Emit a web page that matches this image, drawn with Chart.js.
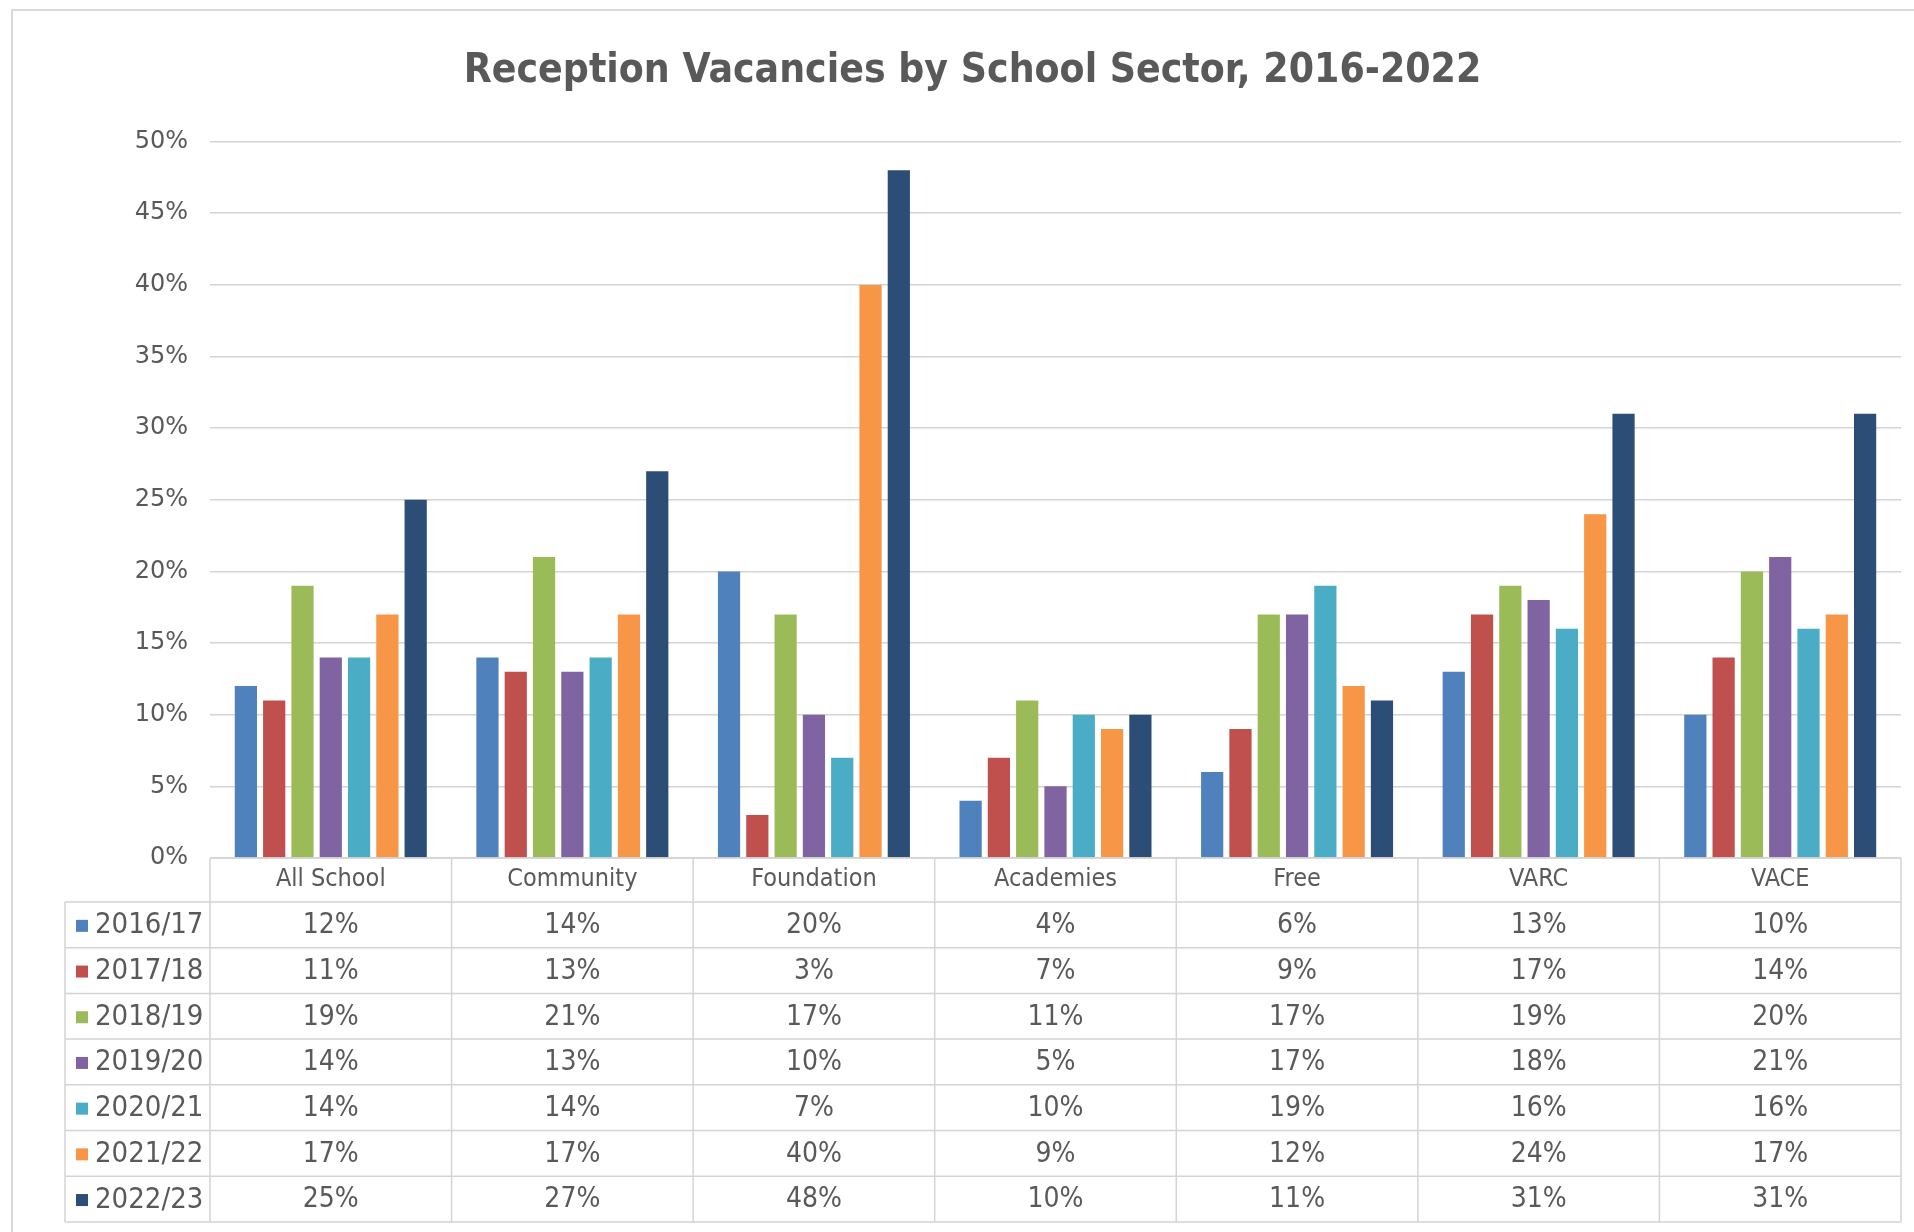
<!DOCTYPE html>
<html>
<head>
<meta charset="utf-8">
<title>Reception Vacancies by School Sector, 2016-2022</title>
<script src="https://cdn.jsdelivr.net/npm/chart.js@4.4.1/dist/chart.umd.min.js"></script>
<style>
  html, body { margin: 0; padding: 0; background: #ffffff; }
  #wrap { width: 1914px; height: 1232px; }
</style>
</head>
<body>
<div id="wrap"><canvas id="chart" width="1914" height="1232"></canvas></div>
<script>
// School sectors along the x axis
const sectors = ['All School', 'Community', 'Foundation', 'Academies', 'Free', 'VARC', 'VACE'];

// Admission years (one series each)
const years = ['2016/17', '2017/18', '2018/19', '2019/20', '2020/21', '2021/22', '2022/23'];

// Reception vacancy rate (%) per sector, one array per year
const vac2016 = [12, 14, 20, 4, 6, 13, 10];
const vac2017 = [11, 13, 3, 7, 9, 17, 14];
const vac2018 = [19, 21, 17, 11, 17, 19, 20];
const vac2019 = [14, 13, 10, 5, 17, 18, 21];
const vac2020 = [14, 14, 7, 10, 19, 16, 16];
const vac2021 = [17, 17, 40, 9, 12, 24, 17];
const vac2022 = [25, 27, 48, 10, 11, 31, 31];

// Y axis range and step (percent)
const yMin = 0;
const yMax = 50;
const yStep = 5;

const seriesValues = [vac2016, vac2017, vac2018, vac2019, vac2020, vac2021, vac2022];
const seriesColors = ['#4F81BD', '#C0504D', '#9BBB59', '#8064A2', '#4BACC6', '#F79646', '#2C4D75'];

const TEXT = '#595959';
const LINE = '#D4D4D4';
const NARROW = "'Liberation Sans Narrow', 'DejaVu Sans Condensed', 'Arial Narrow', sans-serif";

// Table geometry below the plot
const TABLE = {
  headerHeight: 44,
  rowHeight: 45.7,
  legendLeft: 65,
  keyX: 76,
  keySize: 12,
  labelX: 95
};

// Light frame round the whole chart
const framePlugin = {
  id: 'frame',
  beforeDraw(chart) {
    const ctx = chart.ctx;
    ctx.save();
    ctx.strokeStyle = '#D9D9D9';
    ctx.lineWidth = 2;
    ctx.beginPath();
    ctx.moveTo(12, chart.height + 2);
    ctx.lineTo(12, 10);
    ctx.lineTo(chart.width + 2, 10);
    ctx.stroke();
    ctx.restore();
  }
};

// Data table under the bars: sector header, legend keys and values
const dataTablePlugin = {
  id: 'dataTable',
  afterDraw(chart) {
    const ctx = chart.ctx;
    const area = chart.chartArea;
    const x = chart.scales.x;
    const n = sectors.length;
    const half = (x.getPixelForValue(1) - x.getPixelForValue(0)) / 2;
    const top = area.bottom;
    const rowsTop = top + TABLE.headerHeight;
    const bottom = rowsTop + TABLE.rowHeight * years.length;

    ctx.save();
    ctx.strokeStyle = LINE;
    ctx.lineWidth = 1.5;

    // horizontal rules
    ctx.beginPath();
    ctx.moveTo(area.left, top);
    ctx.lineTo(area.right, top);
    for (let r = 0; r <= years.length; r++) {
      const y = rowsTop + r * TABLE.rowHeight;
      ctx.moveTo(TABLE.legendLeft, y);
      ctx.lineTo(area.right, y);
    }
    // vertical rules between sectors
    for (let i = 0; i < n; i++) {
      const edge = x.getPixelForValue(i) - half;
      ctx.moveTo(edge, top);
      ctx.lineTo(edge, bottom);
    }
    ctx.moveTo(area.right, top);
    ctx.lineTo(area.right, bottom);
    ctx.moveTo(TABLE.legendLeft, rowsTop);
    ctx.lineTo(TABLE.legendLeft, bottom);
    ctx.stroke();

    // rows: legend key, year label, values
    ctx.textBaseline = 'middle';
    for (let r = 0; r < years.length; r++) {
      const cy = rowsTop + (r + 0.5) * TABLE.rowHeight;
      ctx.fillStyle = seriesColors[r];
      ctx.fillRect(TABLE.keyX, cy - TABLE.keySize / 2 + 1, TABLE.keySize, TABLE.keySize);
      ctx.fillStyle = TEXT;
      ctx.font = '29px ' + NARROW;
      ctx.textAlign = 'left';
      ctx.fillText(years[r], TABLE.labelX, cy + 1);
      ctx.textAlign = 'center';
      ctx.font = '28px ' + NARROW;
      const vals = seriesValues[r];
      for (let i = 0; i < n; i++) {
        ctx.fillText(vals[i] + '%', x.getPixelForValue(i), cy + 1);
      }
    }
    ctx.restore();
  }
};

const datasets = years.map((label, i) => ({
  label,
  data: seriesValues[i],
  backgroundColor: seriesColors[i],
  borderWidth: 0,
  categoryPercentage: 0.82,
  barPercentage: 0.785
}));

new Chart(document.getElementById('chart'), {
  type: 'bar',
  data: { labels: sectors, datasets },
  plugins: [framePlugin, dataTablePlugin],
  options: {
    responsive: false,
    animation: false,
    devicePixelRatio: 1,
    layout: { padding: { left: 44, right: 13, top: 0, bottom: 10 } },
    plugins: {
      legend: { display: false },
      tooltip: { enabled: false },
      title: {
        display: true,
        text: 'Reception Vacancies by School Sector, 2016-2022',
        color: TEXT,
        font: { family: NARROW, size: 40.5, weight: 'bold', lineHeight: 1.2 },
        padding: { top: 47, bottom: 46 }
      }
    },
    scales: {
      x: {
        grid: { display: false, drawTicks: false },
        border: { display: false },
        ticks: {
          color: TEXT,
          font: { family: NARROW, size: 25 },
          padding: 6,
          maxRotation: 0
        },
        afterFit(scale) { scale.height = 1232 - 10 - 858; }
      },
      y: {
        min: yMin,
        max: yMax,
        grid: { color: LINE, lineWidth: 1.5, drawTicks: false },
        border: { display: false },
        ticks: {
          stepSize: yStep,
          color: TEXT,
          font: { family: "'DejaVu Sans', sans-serif", size: 24 },
          padding: 22,
          callback: (v) => v + '%'
        },
        afterFit(scale) { scale.width = 210 - 44; }
      }
    }
  }
});
</script>
</body>
</html>
